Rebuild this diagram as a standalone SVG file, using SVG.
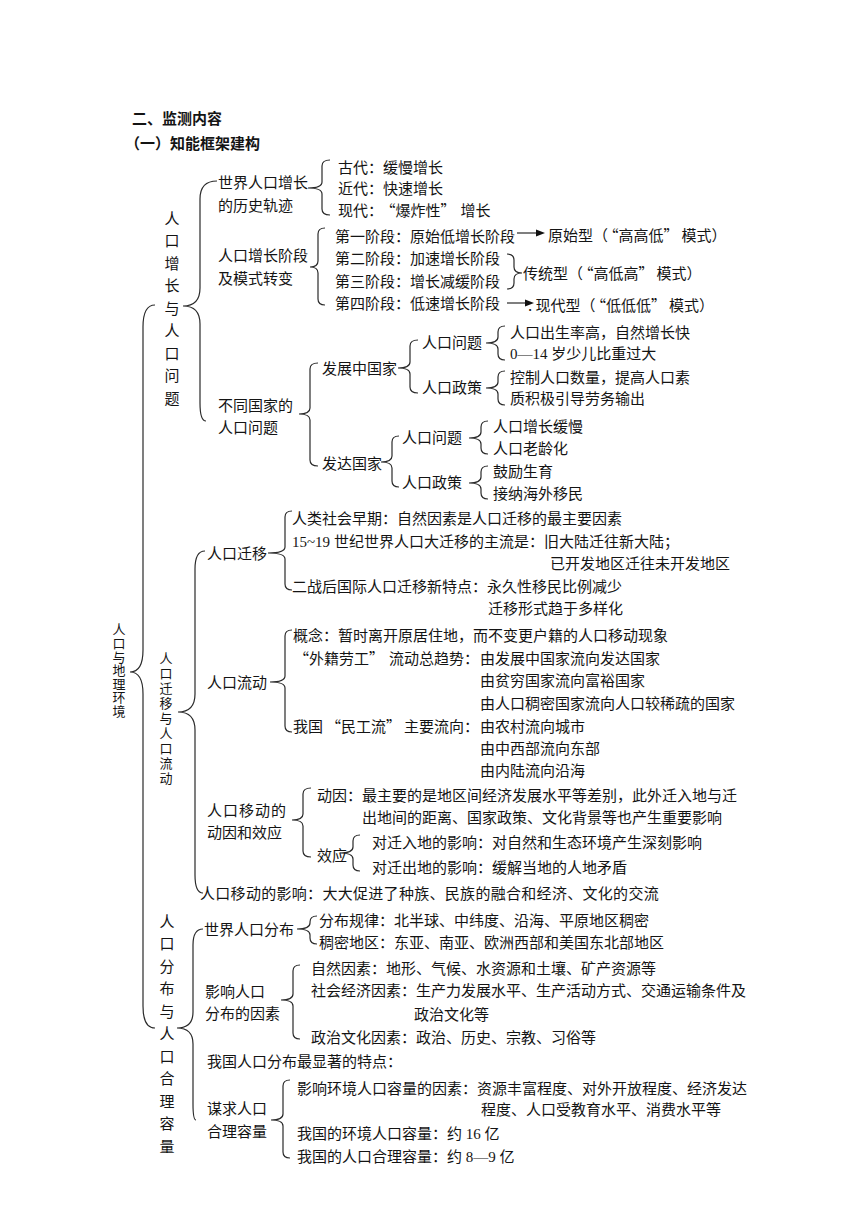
<svg xmlns="http://www.w3.org/2000/svg" width="860" height="1216" viewBox="0 0 860 1216">
<style>
text { font-family: "Noto Sans CJK SC", "Liberation Serif", sans-serif; font-size: 15px; fill: #141414; }
.b { font-weight: bold; }
.lat { font-family: "Liberation Serif", serif; }
.v { text-anchor: middle; }
.vt { writing-mode: vertical-rl; font-size: 13px; }
.e { text-anchor: end; }
.br { fill: none; stroke: #2a2a2a; stroke-width: 1.2; }
.ah { fill: #111; }
</style>
<rect width="860" height="1216" fill="#ffffff"/>
<g id="connectors">
<path class="br" d="M155,305 Q143,305 143,327 L143,650 Q143,672 130,672 Q143,672 143,694 L143,1006 Q143,1028 155,1028"/>
<path class="br" d="M217,181 Q200,181 200,199 L200,288 Q200,306 183,306 Q200,306 200,324 L200,403 Q200,421 206,421"/>
<path class="br" d="M205,551 Q195,551 195,569 L195,694 Q195,712 178,712 Q195,712 195,730 L195,875 Q195,893 203,893"/>
<path class="br" d="M203,929 Q193,929 193,945 L193,1012 Q193,1028 177,1028 Q193,1028 193,1044 L193,1104 Q193,1120 196,1120"/>
<path class="br" d="M330,160 Q322,160 322,166 L322,182 Q322,188 308,188 Q322,188 322,194 L322,209 Q322,215 330,215"/>
<path class="br" d="M325,228 Q318,228 318,234 L318,261 Q318,267 310,267 Q318,267 318,273 L318,299 Q318,305 325,305"/>
<path class="br" d="M318,363 Q310,363 310,369 L310,408 Q310,414 299,414 Q310,414 310,420 L310,460 Q310,466 318,466"/>
<path class="br" d="M418,340 Q410,340 410,346 L410,362 Q410,368 398,368 Q410,368 410,374 L410,387 Q410,393 418,393"/>
<path class="br" d="M505,326 Q498,326 498,332 L498,337 Q498,343 486,343 Q498,343 498,349 L498,354 Q498,360 505,360"/>
<path class="br" d="M505,371 Q498,371 498,377 L498,382 Q498,388 486,388 Q498,388 498,394 L498,399 Q498,405 505,405"/>
<path class="br" d="M399,436 Q392,436 392,442 L392,456 Q392,462 381,462 Q392,462 392,468 L392,481 Q392,487 399,487"/>
<path class="br" d="M488,421 Q481,421 481,427 L481,432 Q481,438 469,438 Q481,438 481,444 L481,448 Q481,454 488,454"/>
<path class="br" d="M488,466 Q481,466 481,472 L481,477 Q481,483 469,483 Q481,483 481,489 L481,493 Q481,499 488,499"/>
<path class="br" d="M292,511 Q285,511 285,517 L285,547 Q285,553 268,553 Q285,553 285,559 L285,584 Q285,590 292,590"/>
<path class="br" d="M292,630 Q285,630 285,636 L285,676 Q285,682 270,682 Q285,682 285,688 L285,726 Q285,732 292,732"/>
<path class="br" d="M311,788 Q303,788 303,794 L303,814 Q303,820 292,820 Q303,820 303,826 L303,851 Q303,857 311,857"/>
<path class="br" d="M360,835 Q353,835 353,841 L353,847 Q353,853 340,853 Q353,853 353,859 L353,865 Q353,871 360,871"/>
<path class="br" d="M317,916 Q310,916 310,922 L310,923 Q310,929 297,929 Q310,929 310,935 L310,938 Q310,944 317,944"/>
<path class="br" d="M300,965 Q293,965 293,971 L293,994 Q293,1000 281,1000 Q293,1000 293,1006 L293,1033 Q293,1039 300,1039"/>
<path class="br" d="M290,1080 Q283,1080 283,1086 L283,1114 Q283,1120 271,1120 Q283,1120 283,1126 L283,1152 Q283,1158 290,1158"/>
<path class="br" d="M507,254 Q514,254 514,260 L514,267 Q514,273 522,273 Q514,273 514,279 L514,283 Q514,289 507,289"/>
<line class="br" x1="517" y1="233" x2="537" y2="233"/>
<polygon class="ah" points="536,229.5 545,233 536,236.5"/>
<line class="br" x1="507" y1="303" x2="526" y2="303"/>
<polygon class="ah" points="525,299.5 534,303 525,306.5"/>
</g>
<g id="header">
<text class="b" x="132" y="123.5">二、监测内容</text>
<text class="b" x="125" y="148.5">（一）知能框架建构</text>
</g>
<g id="root">
<text class="vt" x="119" y="623" letter-spacing="0.6">人口与地理环境</text>
</g>
<g id="growth">
<text class="v" x="172"><tspan x="172" y="223.5">人</tspan><tspan x="172" y="246">口</tspan><tspan x="172" y="268.5">增</tspan><tspan x="172" y="291">长</tspan><tspan x="172" y="313.5">与</tspan><tspan x="172" y="336">人</tspan><tspan x="172" y="358.5">口</tspan><tspan x="172" y="381">问</tspan><tspan x="172" y="403.5">题</tspan></text>
</g>
<g id="history">
<text x="218" y="187.5">世界人口增长</text>
<text x="218" y="210.5">的历史轨迹</text>
<text x="338" y="172.5">古代：缓慢增长</text>
<text x="338" y="193.5">近代：快速增长</text>
<text x="338" y="215.5">现代：<tspan dx="5">“爆炸性”</tspan><tspan dx="5">增长</tspan></text>
</g>
<g id="stages">
<text x="218" y="260.5">人口增长阶段</text>
<text x="218" y="283.5">及模式转变</text>
<text x="335" y="241.5">第一阶段：原始低增长阶段</text>
<text x="335" y="263.5">第二阶段：加速增长阶段</text>
<text x="335" y="286.5">第三阶段：增长减缓阶段</text>
<text x="335" y="308.5">第四阶段：低速增长阶段</text>
<text x="548" y="240.5">原始型（<tspan dx="3">“高高低”</tspan><tspan dx="3">模式）</tspan></text>
<text x="523" y="278.5">传统型（<tspan dx="3">“高低高”</tspan><tspan dx="3">模式）</tspan></text>
<text x="528" y="310.5">. 现代型（<tspan dx="3">“低低低”</tspan><tspan dx="3">模式）</tspan></text>
</g>
<g id="countries">
<text x="218" y="410.5">不同国家的</text>
<text x="218" y="432.5">人口问题</text>
<text x="322" y="373.5">发展中国家</text>
<text x="422" y="347.5">人口问题</text>
<text x="422" y="392.5">人口政策</text>
<text x="510" y="337.5">人口出生率高，自然增长快</text>
<text x="510" y="358.5"><tspan class="lat">0—14 </tspan>岁少儿比重过大</text>
<text x="510" y="382.5">控制人口数量，提高人口素</text>
<text x="510" y="403.5">质积极引导劳务输出</text>
<text x="322" y="468.5">发达国家</text>
<text x="402" y="442.5">人口问题</text>
<text x="402" y="487.5">人口政策</text>
<text x="493" y="431.5">人口增长缓慢</text>
<text x="493" y="453.5">人口老龄化</text>
<text x="493" y="476.5">鼓励生育</text>
<text x="493" y="498.5">接纳海外移民</text>
</g>
<g id="movement">
<text class="vt" x="166" y="652" letter-spacing="2">人口迁移与人口流动</text>
</g>
<g id="migration">
<text x="207" y="558.5">人口迁移</text>
<text x="292" y="523.5">人类社会早期：自然因素是人口迁移的最主要因素</text>
<text x="292" y="546.5"><tspan class="lat">15~19 </tspan>世纪世界人口大迁移的主流是：旧大陆迁往新大陆；</text>
<text x="550" y="568.5">已开发地区迁往未开发地区</text>
<text x="292" y="591.5">二战后国际人口迁移新特点：永久性移民比例减少</text>
<text x="488" y="613.5">迁移形式趋于多样化</text>
</g>
<g id="flow">
<text x="207" y="687.5">人口流动</text>
<text x="293" y="640.5">概念：暂时离开原居住地，而不变更户籍的人口移动现象</text>
<text class="e" x="479" y="663.5">“外籍劳工”<tspan dx="5">流动总趋势：</tspan></text>
<text x="480" y="663.5">由发展中国家流向发达国家</text>
<text x="480" y="685.5">由贫穷国家流向富裕国家</text>
<text x="480" y="708.5">由人口稠密国家流向人口较稀疏的国家</text>
<text class="e" x="479" y="731.5">我国<tspan dx="3">“民工流”</tspan><tspan dx="3">主要流向：</tspan></text>
<text x="480" y="731.5">由农村流向城市</text>
<text x="480" y="753.5">由中西部流向东部</text>
<text x="480" y="775.5">由内陆流向沿海</text>
</g>
<g id="cause">
<text x="207" y="815.5" letter-spacing="1">人口移动的</text>
<text x="207" y="837.5">动因和效应</text>
<text x="317" y="800.5">动因：最主要的是地区间经济发展水平等差别，此外迁入地与迁</text>
<text x="362" y="822.5">出地间的距离、国家政策、文化背景等也产生重要影响</text>
<text x="317" y="860.5">效应</text>
<text x="372" y="847.5">对迁入地的影响：对自然和生态环境产生深刻影响</text>
<text x="372" y="872.5">对迁出地的影响：缓解当地的人地矛盾</text>
<text x="200" y="898.5" letter-spacing="0.3">人口移动的影响：大大促进了种族、民族的融合和经济、文化的交流</text>
</g>
<g id="distribution">
<text class="v" x="167"><tspan x="167" y="926.5">人</tspan><tspan x="167" y="949">口</tspan><tspan x="167" y="971.5">分</tspan><tspan x="167" y="994">布</tspan><tspan x="167" y="1016.5">与</tspan><tspan x="167" y="1039">人</tspan><tspan x="167" y="1061.5">口</tspan><tspan x="167" y="1084">合</tspan><tspan x="167" y="1106.5">理</tspan><tspan x="167" y="1129">容</tspan><tspan x="167" y="1151.5">量</tspan></text>
</g>
<g id="world-dist">
<text x="204" y="934.5">世界人口分布</text>
<text x="319" y="925.5">分布规律：北半球、中纬度、沿海、平原地区稠密</text>
<text x="319" y="947.5">稠密地区：东亚、南亚、欧洲西部和美国东北部地区</text>
</g>
<g id="factors">
<text x="205" y="996.5">影响人口</text>
<text x="205" y="1018.5">分布的因素</text>
<text x="311" y="973.5">自然因素：地形、气候、水资源和土壤、矿产资源等</text>
<text x="311" y="995.5">社会经济因素：生产力发展水平、生产活动方式、交通运输条件及</text>
<text x="414" y="1019.5">政治文化等</text>
<text x="311" y="1042.5">政治文化因素：政治、历史、宗教、习俗等</text>
</g>
<g id="china-dist">
<text x="207" y="1066.5">我国人口分布最显著的特点：</text>
</g>
<g id="capacity">
<text x="207" y="1113.5">谋求人口</text>
<text x="207" y="1136.5">合理容量</text>
<text x="297" y="1093.5">影响环境人口容量的因素：资源丰富程度、对外开放程度、经济发达</text>
<text x="481" y="1114.5">程度、人口受教育水平、消费水平等</text>
<text x="297" y="1138.5">我国的环境人口容量：约<tspan class="lat"> 16 </tspan>亿</text>
<text x="297" y="1161.5">我国的人口合理容量：约<tspan class="lat"> 8—9 </tspan>亿</text>
</g>
</svg>
